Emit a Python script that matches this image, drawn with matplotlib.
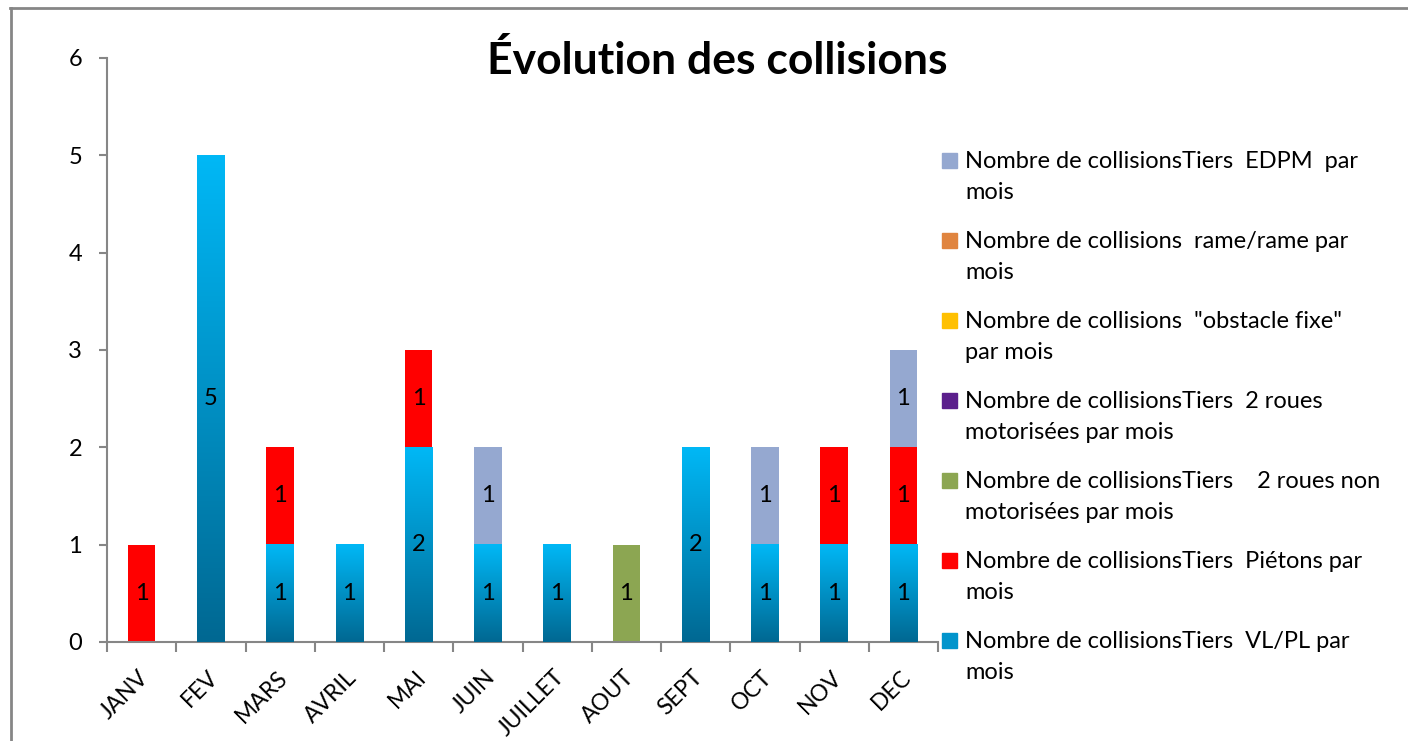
import numpy as np
import matplotlib
matplotlib.use('Agg')
import matplotlib.pyplot as plt
import matplotlib.transforms as mtransforms
from matplotlib.patches import Rectangle
from matplotlib.lines import Line2D
from matplotlib.colors import LinearSegmentedColormap

# Data
months = ['JANV', 'FEV', 'MARS', 'AVRIL', 'MAI', 'JUIN', 'JUILLET', 'AOUT',
          'SEPT', 'OCT', 'NOV', 'DEC']
vl_pl       = [0, 5, 1, 1, 2, 1, 1, 0, 2, 1, 1, 1]
pietons     = [1, 0, 1, 0, 1, 0, 0, 0, 0, 0, 1, 1]
deux_r_non  = [0, 0, 0, 0, 0, 0, 0, 1, 0, 0, 0, 0]
deux_r_mot  = [0, 0, 0, 0, 0, 0, 0, 0, 0, 0, 0, 0]
obstacle    = [0, 0, 0, 0, 0, 0, 0, 0, 0, 0, 0, 0]
rame_rame   = [0, 0, 0, 0, 0, 0, 0, 0, 0, 0, 0, 0]
edpm        = [0, 0, 0, 0, 0, 1, 0, 0, 0, 1, 0, 1]

series = [
    ('Nombre de collisionsTiers  VL/PL par\nmois',                  vl_pl,      '#0094CC'),
    ('Nombre de collisionsTiers  Piétons par\nmois',                pietons,    '#FF0000'),
    ('Nombre de collisionsTiers    2 roues non\nmotorisées par mois', deux_r_non, '#8CA652'),
    ('Nombre de collisionsTiers  2 roues\nmotorisées par mois',     deux_r_mot, '#5B1F8C'),
    ('Nombre de collisions  "obstacle fixe"\npar mois',             obstacle,   '#FFC000'),
    ('Nombre de collisions  rame/rame par\nmois',                   rame_rame,  '#E0843F'),
    ('Nombre de collisionsTiers  EDPM  par\nmois',                  edpm,       '#95A8D0'),
]

FONT = 'Lato'
GREY = '#868686'
FS = 17
blue_grad = LinearSegmentedColormap.from_list('vlpl', ['#006892', '#00B8F6'])

fig = plt.figure(figsize=(14.08, 7.41), dpi=100)
W, H = 1408, 741
ax = fig.add_axes([107 / W, 1 - 642 / H, (938 - 107) / W, (642 - 58) / H])

x = np.arange(len(months))
bottom = np.zeros(len(months))
for i, (label, vals, color) in enumerate(series):
    vals = np.array(vals, dtype=float)
    bars = ax.bar(x, vals, width=0.4, bottom=bottom, color=color, linewidth=0, zorder=2)
    for b, v in zip(bars, vals):
        if v <= 0:
            continue
        if i == 0:
            # vertical gradient like the Excel fill
            grad = np.linspace(0, 1, 256).reshape(-1, 1)
            ax.imshow(grad, cmap=blue_grad, origin='lower', aspect='auto',
                      extent=[b.get_x(), b.get_x() + b.get_width(),
                              b.get_y(), b.get_y() + b.get_height()], zorder=3)
        ax.text(b.get_x() + b.get_width() / 2, b.get_y() + b.get_height() / 2,
                f'{int(v)}', ha='center', va='center', fontsize=FS,
                family=FONT, color='black', zorder=4)
    bottom += vals

ax.set_xlim(-0.5, len(months) - 0.5)
ax.set_ylim(0, 6)
ax.set_yticks(range(0, 7))
ax.tick_params(axis='y', direction='out', length=6, width=1.5, color=GREY,
               labelsize=FS, pad=12)
for t in ax.get_yticklabels():
    t.set_family(FONT)

ax.set_xticks(np.arange(-0.5, len(months)), minor=False)
ax.set_xticklabels([])
ax.set_xticks(x, minor=True)
ax.set_xticklabels(months, minor=True, rotation=45, ha='right', va='center',
                   rotation_mode='anchor', fontsize=16.5, family=FONT)
ax.tick_params(axis='x', which='major', direction='out', length=7, width=1.5, color=GREY)
ax.tick_params(axis='x', which='minor', length=0, pad=23)
shift = mtransforms.ScaledTranslation(0.04, 0, fig.dpi_scale_trans)
for t in ax.get_xticklabels(minor=True):
    t.set_transform(t.get_transform() + shift)

for s in ['top', 'right']:
    ax.spines[s].set_visible(False)
for s in ['left', 'bottom']:
    ax.spines[s].set_color(GREY)
    ax.spines[s].set_linewidth(1.5)

fig.text(717 / W, 1 - 60 / H, 'Évolution des collisions', ha='center', va='center',
         fontsize=32, fontweight='bold', family=FONT)

# legend (reversed order, square aligned with first line)
for k, (label, vals, color) in enumerate(reversed(series)):
    base = 168 + 80 * k
    fig.patches.append(Rectangle((942 / W, 1 - base / H), 15 / W, 15 / H,
                                 transform=fig.transFigure, color=color, figure=fig))
    for j, line in enumerate(label.split('\n')):
        fig.text(965 / W, 1 - (base + 31 * j) / H, line, ha='left', va='baseline',
                 fontsize=FS, family=FONT)

# chart frame
fig.lines.append(Line2D([10.5 / W, 10.5 / W], [0, 1 - 8 / H], transform=fig.transFigure,
                        color=GREY, lw=2))
fig.lines.append(Line2D([10 / W, 1], [1 - 8 / H, 1 - 8 / H], transform=fig.transFigure,
                        color=GREY, lw=2))

fig.savefig('out.png', dpi=100)
